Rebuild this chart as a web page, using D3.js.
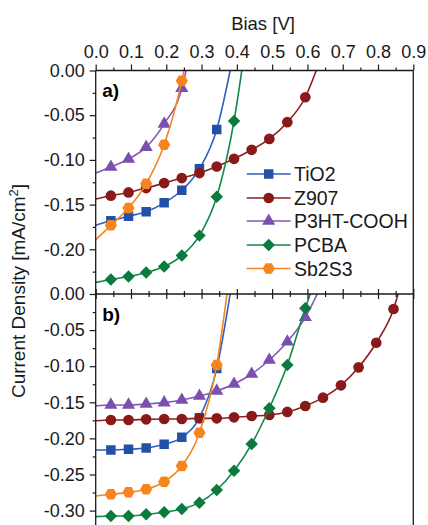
<!DOCTYPE html>
<html>
<head>
<meta charset="utf-8">
<script src="https://cdn.jsdelivr.net/npm/d3@7"></script>
<style>
  body { margin: 0; background: #fff; }
  svg { display: block; font-family: "Liberation Sans", Arial, sans-serif; }
</style>
</head>
<body>
<div id="chart-area"></div>
<script>
// marker voltages (V), shared by both panels
const bias = [0.043, 0.093, 0.143, 0.194, 0.244, 0.294, 0.343, 0.392, 0.442,
    0.492, 0.543, 0.594, 0.644, 0.695, 0.745, 0.795, 0.844];

const seriesNames = ['TiO2', 'Z907', 'P3HT-COOH', 'PCBA', 'Sb2S3'];

// panel a) current density (mA/cm2) at the markers
const tio2A = [-0.168, -0.163, -0.158, -0.148, -0.134, -0.110, -0.066];
const z907A = [-0.140, -0.1364, -0.1315, -0.1259, -0.1203, -0.1147, -0.1074, -0.0988,
    -0.0887, -0.0765, -0.0578, -0.0299];
const p3htA = [-0.108, -0.099, -0.0857, -0.0597, -0.0199];
const pcbaA = [-0.2338, -0.2305, -0.226, -0.2193, -0.207, -0.1847, -0.1412, -0.0564];
const sb2s3A = [-0.1732, -0.1538, -0.1267, -0.0831, -0.0114];
// fitted curve ends: J at 0 V and open circuit voltage
const jscA = [-0.173, -0.1438, -0.1147, -0.237, -0.1892];
const vocA = [0.381, 0.625, 0.256, 0.414, 0.250];

// panel b)
const tio2B = [-0.216, -0.2151, -0.2133, -0.2082, -0.1985, -0.1713, -0.1033];
const z907B = [-0.1745, -0.1745, -0.1736, -0.1731, -0.1731, -0.1722, -0.1722, -0.1708,
    -0.169, -0.1676, -0.1634, -0.1551, -0.1436, -0.1265, -0.1016, -0.0675, -0.0208];
const p3htB = [-0.1537, -0.1537, -0.1524, -0.1505, -0.1468, -0.1413, -0.1343, -0.1247,
    -0.1108, -0.0914, -0.0661, -0.0323];
const pcbaB = [-0.3075, -0.3075, -0.3052, -0.3024, -0.2978, -0.289, -0.2715, -0.2447,
    -0.2078, -0.1583, -0.0983, -0.0198];
const sb2s3B = [-0.2774, -0.2747, -0.2705, -0.26, -0.2382, -0.1921, -0.0983];
const jscB = [-0.216, -0.1755, -0.155, -0.3084, -0.2798];
const vocB = [0.381, 0.857, 0.628, 0.608, 0.372];

const xTicks = [0, 0.1, 0.2, 0.3, 0.4, 0.5, 0.6, 0.7, 0.8, 0.9];
const yTicksA = [0, -0.05, -0.10, -0.15, -0.20];
const yTicksB = [0, -0.05, -0.10, -0.15, -0.20, -0.25, -0.30];

const lineColors = ['#2f5fbf', '#8e1f1f', '#8558bb', '#10894a', '#f7851f'];
const markColors = ['#2350a6', '#8a1a1a', '#7a4fae', '#0c7a3e', '#f7851f'];

const width = 428, height = 525;
const left = 95.7, right = 413.3;
const topA = 70.5, bottomA = 294, bottomB = 294 + 0.33 * 722;

const svg = d3.select('#chart-area')
    .append('svg')
    .attr('width', width)
    .attr('height', height);

const xScale = d3.scaleLinear().domain([0, 0.9]).range([left, right]);
const yA = d3.scaleLinear().domain([-0.25, 0]).range([bottomA, topA]);
const yB = d3.scaleLinear().domain([-0.33, 0]).range([bottomB, bottomA]);

const hexagon = {
    draw(ctx, size) {
        const r = Math.sqrt(size / (1.5 * Math.sqrt(3)));
        for (let i = 0; i < 6; i++) {
            const a = i * Math.PI / 3;
            if (i === 0) ctx.moveTo(r * Math.cos(a), r * Math.sin(a));
            else ctx.lineTo(r * Math.cos(a), r * Math.sin(a));
        }
        ctx.closePath();
    }
};
const diamond = {
    draw(ctx, size) {
        const r = Math.sqrt(size / 2);
        ctx.moveTo(0, -r); ctx.lineTo(r, 0); ctx.lineTo(0, r); ctx.lineTo(-r, 0);
        ctx.closePath();
    }
};
const symbols = [
    d3.symbol(d3.symbolSquare, 90),
    d3.symbol(d3.symbolCircle, 90),
    d3.symbol(d3.symbolTriangle, 75),
    d3.symbol(diamond, 78),
    d3.symbol(hexagon, 95)
];

function drawPanel(name, yScale, topY, botY, data, jsc, voc, label) {
    const clipId = 'clip-' + name;
    svg.append('clipPath').attr('id', clipId)
        .append('rect')
        .attr('x', left).attr('y', topY)
        .attr('width', right - left).attr('height', botY - topY);

    const plot = svg.append('g').attr('clip-path', 'url(#' + clipId + ')');
    const line = d3.line()
        .x(d => xScale(d[0]))
        .y(d => yScale(d[1]))
        .curve(d3.curveMonotoneX);

    data.forEach((vals, i) => {
        const pts = vals.map((j, k) => [bias[k], j]);
        const curve = [[0, jsc[i]]].concat(pts, [[voc[i], 0]]);
        plot.append('path')
            .datum(curve)
            .attr('fill', 'none')
            .attr('stroke', lineColors[i])
            .attr('stroke-width', 1.6)
            .attr('d', line);
        plot.selectAll('.m' + i)
            .data(pts)
            .enter()
            .append('path')
            .attr('class', 'm' + i)
            .attr('transform', d => 'translate(' + xScale(d[0]) + ',' + yScale(d[1]) + ')')
            .attr('d', symbols[i])
            .attr('fill', markColors[i]);
    });

    svg.append('text')
        .text(label)
        .attr('x', left + 6.5)
        .attr('y', topY + 26.5)
        .attr('font-size', '19px')
        .attr('font-weight', 'bold');
}

drawPanel('a', yA, topA, bottomA, [tio2A, z907A, p3htA, pcbaA, sb2s3A], jscA, vocA, 'a)');
drawPanel('b', yB, bottomA, bottomB, [tio2B, z907B, p3htB, pcbaB, sb2s3B], jscB, vocB, 'b)');

// axes
function styleAxis(g) {
    g.select('.domain').remove();
    g.selectAll('line').attr('stroke', '#1a1a1a').attr('stroke-width', 1.2);
    g.selectAll('text').attr('fill', '#1a1a1a').attr('font-size', '18px')
        .attr('font-family', '"Liberation Sans", Arial, sans-serif');
}
const xMinor = d3.range(0.05, 0.9, 0.1);

svg.append('g')
    .attr('transform', 'translate(0,' + topA + ')')
    .call(d3.axisTop(xScale).tickValues(xTicks).tickFormat(d => d.toFixed(1))
        .tickSize(6).tickPadding(7))
    .call(styleAxis);
svg.append('g')
    .attr('transform', 'translate(0,' + topA + ')')
    .call(d3.axisTop(xScale).tickValues(xMinor).tickFormat('').tickSize(3))
    .call(styleAxis);
// shared boundary: ticks on both sides
[d3.axisTop, d3.axisBottom].forEach(ax => {
    svg.append('g')
        .attr('transform', 'translate(0,' + bottomA + ')')
        .call(ax(xScale).tickValues(xTicks).tickFormat('').tickSize(5))
        .call(styleAxis);
    svg.append('g')
        .attr('transform', 'translate(0,' + bottomA + ')')
        .call(ax(xScale).tickValues(xMinor).tickFormat('').tickSize(3))
        .call(styleAxis);
});

svg.append('g')
    .attr('transform', 'translate(' + left + ',0)')
    .call(d3.axisLeft(yA).tickValues(yTicksA).tickFormat(d => d.toFixed(2))
        .tickSize(6).tickPadding(5))
    .call(styleAxis);
svg.append('g')
    .attr('transform', 'translate(' + left + ',0)')
    .call(d3.axisLeft(yA).tickValues(d3.range(-0.025, -0.25, -0.05)).tickFormat('').tickSize(3))
    .call(styleAxis);
svg.append('g')
    .attr('transform', 'translate(' + left + ',0)')
    .call(d3.axisLeft(yB).tickValues(yTicksB).tickFormat(d => d.toFixed(2))
        .tickSize(6).tickPadding(5))
    .call(styleAxis);
svg.append('g')
    .attr('transform', 'translate(' + left + ',0)')
    .call(d3.axisLeft(yB).tickValues(d3.range(-0.025, -0.33, -0.05)).tickFormat('').tickSize(3))
    .call(styleAxis);

// frame lines
const frame = svg.append('g').attr('stroke', '#1a1a1a').attr('stroke-width', 1.3);
frame.append('line').attr('x1', left).attr('x2', right).attr('y1', topA).attr('y2', topA);
frame.append('line').attr('x1', left).attr('x2', right).attr('y1', bottomA).attr('y2', bottomA);
frame.append('line').attr('x1', left).attr('x2', left).attr('y1', topA).attr('y2', height);
frame.append('line').attr('x1', right).attr('x2', right).attr('y1', topA).attr('y2', height);

// titles
svg.append('text')
    .text('Bias [V]')
    .attr('x', 263)
    .attr('y', 30)
    .attr('text-anchor', 'middle')
    .attr('font-size', '18.5px')
    .attr('fill', '#1a1a1a');

const yLabel = svg.append('text')
    .attr('transform', 'translate(25,291) rotate(-90)')
    .attr('text-anchor', 'middle')
    .attr('font-size', '19px')
    .attr('fill', '#1a1a1a');
yLabel.append('tspan').text('Current Density [mA/cm');
yLabel.append('tspan').text('2').attr('font-size', '13px').attr('dy', '-7');
yLabel.append('tspan').text(']').attr('dy', '7');

// legend
const legend = svg.append('g');
const legendY = [174, 198, 221, 245, 268.5];
seriesNames.forEach((name, i) => {
    const row = legend.append('g').attr('transform', 'translate(0,' + legendY[i] + ')');
    row.append('line')
        .attr('x1', 246.7).attr('x2', 290.7)
        .attr('stroke', lineColors[i]).attr('stroke-width', 1.6);
    row.append('path')
        .attr('transform', 'translate(268.7,0)')
        .attr('d', symbols[i])
        .attr('fill', markColors[i]);
    row.append('text')
        .text(name)
        .attr('x', 294)
        .attr('y', 7)
        .attr('font-size', '19.5px')
        .attr('fill', '#1a1a1a');
});
</script>
</body>
</html>
